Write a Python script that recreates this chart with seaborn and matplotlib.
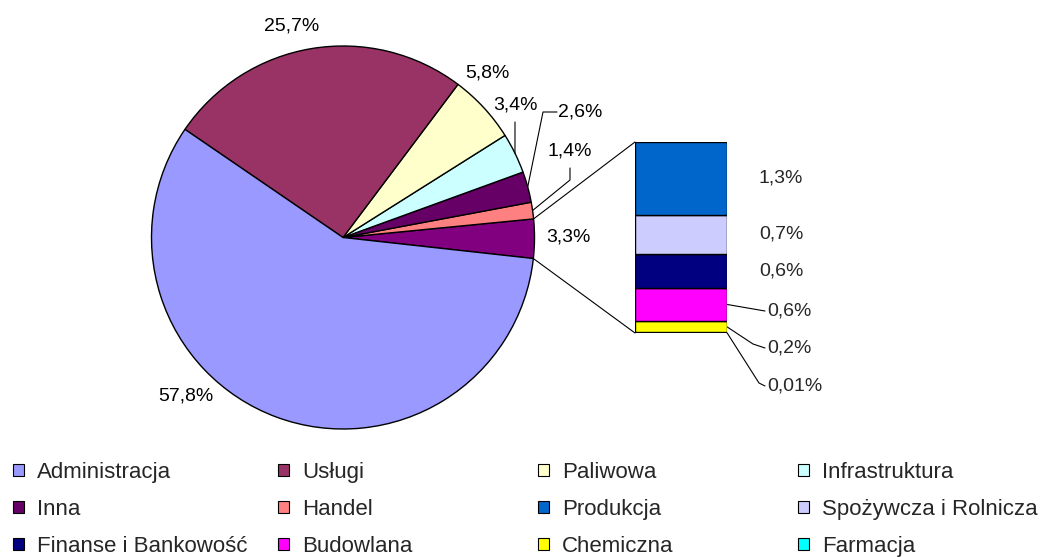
import matplotlib
matplotlib.use("Agg")
import numpy as np
import matplotlib.pyplot as plt
import seaborn as sns
from matplotlib.patches import Patch, ConnectionPatch
from matplotlib.transforms import blended_transform_factory

# pie slices, from the "other" slice going round counter-clockwise
pie_names = ["Inne", "Handel", "Inna", "Infrastruktura", "Paliwowa",
             "Usługi", "Administracja"]
pie_values = [3.3, 1.4, 2.6, 3.4, 5.8, 25.7, 57.8]
pie_colors = ["#800080", "#FF8080", "#660066", "#CCFFFF", "#FFFFCC",
              "#993366", "#9999FF"]

# breakdown of the "other" slice, bottom of the bar first
bar_names = ["Farmacja", "Chemiczna", "Budowlana", "Finanse i Bankowość",
             "Spożywcza i Rolnicza", "Produkcja"]
bar_values = [0.01, 0.2, 0.6, 0.6, 0.7, 1.3]
bar_colors = ["#00FFFF", "#FFFF00", "#FF00FF", "#000080", "#CCCCFF",
              "#0066CC"]

legend_order = ["Administracja", "Usługi", "Paliwowa", "Infrastruktura",
                "Inna", "Handel", "Produkcja", "Spożywcza i Rolnicza",
                "Finanse i Bankowość", "Budowlana", "Chemiczna", "Farmacja"]

W, H = 1053, 557


def fmt(v):
    s = f"{v:.2f}" if v < 0.1 else f"{v:.1f}"
    return s.replace(".", ",") + "%"


def main():
    sns.set_theme(style="white")
    plt.rcParams["font.family"] = ["Liberation Sans", "DejaVu Sans"]

    fig = plt.figure(figsize=(W / 100, H / 100), dpi=100)
    # full-figure axes in pixel units (y downwards)
    ax = fig.add_axes([0, 0, 1, 1])
    wedges, _ = ax.pie(pie_values, colors=pie_colors, startangle=6.3,
                       counterclock=False, radius=191.5, center=(343, 237.5),
                       wedgeprops=dict(edgecolor="black", linewidth=1))
    ax.set_xlim(0, W)
    ax.set_ylim(H, 0)
    ax.axis("off")

    # pie labels
    label_pos = {"Inne": (568, 237), "Handel": (570, 151), "Inna": (580, 112),
                 "Infrastruktura": (515, 105), "Paliwowa": (487, 73),
                 "Usługi": (292, 26), "Administracja": (186, 396)}
    leaders = {"Handel": [(570, 168), (570, 180)],
               "Inna": [(557, 112), (543, 112)],
               "Infrastruktura": [(515, 122)]}
    for w, name, v in zip(wedges, pie_names, pie_values):
        x, y = label_pos[name]
        ax.text(x, y, fmt(v), ha="center", va="center", fontsize=14,
                color="black")
        if name in leaders:
            mid = np.deg2rad((w.theta1 + w.theta2) / 2)
            cx, cy = w.center
            end = (cx + w.r * np.cos(mid), cy + w.r * np.sin(mid))
            pts = leaders[name] + [end]
            ax.plot([p[0] for p in pts], [p[1] for p in pts],
                    color="black", lw=0.8)

    # stacked bar
    bax = fig.add_axes([635 / W, 1 - 333 / H, 92 / W, 191 / H])
    bottoms = np.concatenate([[0], np.cumsum(bar_values)[:-1]])
    bax.bar(0, bar_values, bottom=bottoms, width=1, color=bar_colors,
            edgecolor="black", linewidth=1)
    total = sum(bar_values)
    bax.set_xlim(-0.5, 0.5)
    bax.set_ylim(0, total)
    bax.axis("off")

    to_px = lambda p: ax.transData.inverted().transform(
        bax.transData.transform(p))
    mixed = blended_transform_factory(ax.transData, bax.transData)
    bar_leaders = {"Budowlana": [(765, 311)],
                   "Chemiczna": [(753, 344), (765, 348)],
                   "Farmacja": [(759, 383), (765, 386)]}
    for name, v, b in zip(bar_names, bar_values, bottoms):
        mid = b + v / 2
        if name in bar_leaders:
            start = to_px((0.5, mid))
            pts = [tuple(start)] + bar_leaders[name]
            ax.plot([p[0] for p in pts], [p[1] for p in pts],
                    color="black", lw=0.8)
            lx, ly = pts[-1]
            ax.text(lx + 2, ly, fmt(v), ha="left", va="center", fontsize=14)
        else:
            bax.text(781, mid, fmt(v), ha="center", va="center",
                     fontsize=14, transform=mixed, clip_on=False)

    # connector lines between pie slice and bar
    w = wedges[0]
    cx, cy = w.center
    for ang, yb in ((w.theta1, total), (w.theta2, 0)):
        a = np.deg2rad(ang)
        p = (cx + w.r * np.cos(a), cy + w.r * np.sin(a))
        con = ConnectionPatch(xyA=p, coordsA=ax.transData,
                              xyB=(-0.5, yb), coordsB=bax.transData,
                              color="black", lw=0.8)
        fig.add_artist(con)

    # legend, four columns of equal width
    colors = dict(zip(pie_names + bar_names, pie_colors + bar_colors))
    for k, x0 in enumerate([13, 278, 538, 798]):
        names = legend_order[k::4]
        handles = [Patch(facecolor=colors[n], edgecolor="black",
                         linewidth=0.8) for n in names]
        fig.legend(handles, names, loc="upper left",
                   bbox_to_anchor=(x0 / W, 1 - 462 / H), frameon=False,
                   fontsize=16, handlelength=0.5, handleheight=0.5,
                   handletextpad=0.58, labelspacing=0.72, borderpad=0,
                   borderaxespad=0)

    fig.savefig("out.png", dpi=100)


if __name__ == "__main__":
    main()
